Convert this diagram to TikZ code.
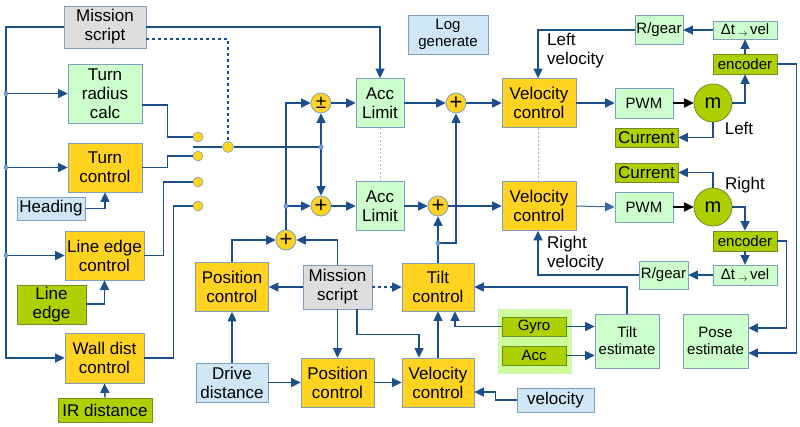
\documentclass[tikz,border=0pt]{standalone}
\usepackage{fontspec}
\setmainfont{Liberation Sans}
\usetikzlibrary{arrows.meta,calc}
\definecolor{cline}{HTML}{1B4F8C}
\definecolor{bord}{HTML}{7F9FBF}
\definecolor{cyel}{HTML}{FFD320}
\definecolor{cgrn}{HTML}{CCFFCC}
\definecolor{cblu}{HTML}{CFE7F5}
\definecolor{cgry}{HTML}{DDDDDD}
\definecolor{colv}{HTML}{AECF00}
\definecolor{bolv}{HTML}{6E8C28}
\definecolor{cgrp}{HTML}{CCFF99}
\definecolor{cdot}{HTML}{729FCF}
\definecolor{cthin}{HTML}{3465A4}
\newcommand{\fntA}{\fontsize{17}{19}\selectfont}
\newcommand{\fntB}{\fontsize{15}{17}\selectfont}
\newcommand{\fntM}{\fontsize{20}{20}\selectfont}
\newcommand{\fntS}{\fontsize{22}{22}\selectfont}
\newcommand{\smarr}{\,\raisebox{-1.5pt}{\fontsize{10}{10}\selectfont$\rightarrow$}\,}
\begin{document}
\begin{tikzpicture}[x=1pt,y=-1pt,
  every node/.style={inner sep=0pt, align=center},
  bx/.style={draw=bord, line width=0.8pt, font=\fntA},
  yel/.style={bx, fill=cyel},
  grn/.style={bx, fill=cgrn},
  blu/.style={bx, fill=cblu},
  gry/.style={bx, fill=cgry},
  olv/.style={bx, fill=colv, draw=bolv},
  sz/.style 2 args={minimum width=#1pt, minimum height=#2pt},
  sumc/.style={circle, draw=bord, fill=cyel, line width=0.8pt, minimum size=20pt, font=\fntS},
  swc/.style={circle, draw=bord, fill=cyel, line width=0.6pt, minimum size=#1pt},
  dotc/.style={circle, fill=cdot, minimum size=5pt},
  motor/.style={circle, draw=bolv, fill=colv, line width=0.8pt, minimum size=38pt, font=\fntM},
  ln/.style={draw=cline, line width=1.4pt},
  arr/.style={ln, -{Triangle[length=9.5pt,width=9pt]}},
  barr/.style={draw=black, line width=1.4pt, -{Triangle[length=9.5pt,width=9pt]}},
  tarr/.style={draw=cthin, line width=1pt, -{Triangle[length=9.5pt,width=9pt]}},
  dsh/.style={ln, dash pattern=on 3pt off 3pt},
  dotl/.style={draw=bord!70, line width=0.8pt, dash pattern=on 2pt off 2pt},
  lab/.style={font=\fntA, align=left}
]
\useasboundingbox (0,0) rectangle (800,426);
\fill[white] (0,0) rectangle (800,426);

% ---- left column
\node[gry, sz={82}{42}] (ms1) at (105,27) {Mission\\script};
\node[grn, sz={74}{59}] (trc) at (105,93.5) {Turn\\radius\\calc};
\node[yel, sz={74}{49}] (tc) at (105,167.5) {Turn\\control};
\node[blu, sz={68}{23}] (head) at (51,208.5) {Heading};
\node[yel, sz={79}{49}] (lec) at (104.5,255.5) {Line edge\\control};
\node[olv, sz={69}{39}] (le) at (51.5,304.5) {Line\\edge};
\node[yel, sz={79}{50}] (wdc) at (104.5,358) {Wall dist\\control};
\node[olv, sz={94}{24}] (ir) at (105,410) {IR distance};

% ---- switch
\node[swc=10] (c1) at (198,137) {};
\node[swc=10] (c2) at (198,156) {};
\node[swc=10] (c3) at (198,182) {};
\node[swc=10] (c4) at (198,206) {};
\node[swc=11] (cj) at (228,147) {};
\coordinate (sw) at (193,147);
\coordinate (bus) at (6,0);
\coordinate (d1) at (321,147);
\coordinate (d2) at (286,206);
\coordinate (d3) at (438,243);

% ---- sums and acc limits
\node[sumc, font=\fontsize{19}{19}\selectfont] (s1) at (321,103) {±};
\node[sumc] (s2) at (321,206) {+};
\node[sumc] (s3) at (286,240) {+};
\node[sumc] (s4) at (456,103) {+};
\node[sumc] (s5) at (438,206) {+};
\node[grn, sz={48}{49}] (acc1) at (380,103) {Acc\\Limit};
\node[grn, sz={48}{49}] (acc2) at (380,206) {Acc\\Limit};
\node[blu, sz={80}{39}, font=\fntB] (log) at (448,34.5) {Log\\generate};

% ---- velocity/motor
\node[yel, sz={74}{49}] (vc1) at (539,103) {Velocity\\control};
\node[yel, sz={74}{49}] (vc2) at (539,206) {Velocity\\control};
\node[grn, sz={58}{30}, font=\fntB] (pwm1) at (644,103) {PWM};
\node[grn, sz={58}{30}, font=\fntB] (pwm2) at (644,207) {PWM};
\node[motor] (m1) at (713,103) {m};
\node[motor] (m2) at (713,207) {m};
\node[olv, sz={63}{19}] (cur1) at (646.5,137.5) {Current};
\node[olv, sz={63}{19}] (cur2) at (646.5,172.5) {Current};
\node[olv, sz={64}{20}, font=\fntB] (enc1) at (745,64) {encoder};
\node[grn, sz={64}{18}, font=\fntB] (dt1) at (745,30) {Δt\smarr vel};
\node[grn, sz={48}{29}, font=\fntB] (rg1) at (659,30) {R/gear};
\node[olv, sz={64}{20}, font=\fntB] (enc2) at (745,241) {encoder};
\node[grn, sz={64}{20}, font=\fntB] (dt2) at (745,275) {Δt\smarr vel};
\node[grn, sz={49}{28}, font=\fntB] (rg2) at (663.5,275) {R/gear};
\node[grn, sz={65}{54}, font=\fntB] (pose) at (715.5,341) {Pose\\estimate};
\node[grn, sz={64}{54}, font=\fntB] (tilte) at (627,341) {Tilt\\estimate};
\node[bx, draw=cgrp!80!black!40, fill=cgrp, sz={73}{64}] (grp) at (534.5,341) {};
\node[olv, sz={64}{19}, font=\fntB] (gyro) at (534,326.5) {Gyro};
\node[olv, sz={64}{19}, font=\fntB] (accs) at (534,355.5) {Acc};

% ---- bottom middle
\node[yel, sz={73}{49}] (posc1) at (232,287) {Position\\control};
\node[gry, sz={69}{44}] (ms2) at (337.5,287) {Mission\\script};
\node[yel, sz={72}{48}] (tilt) at (438,287) {Tilt\\control};
\node[yel, sz={73}{49}] (posc2) at (337.5,382.5) {Position\\control};
\node[yel, sz={72}{49}] (vc3) at (438,382.5) {Velocity\\control};
\node[blu, sz={72}{39}] (dd) at (232,382.5) {Drive\\distance};
\node[blu, sz={77}{24}] (vel) at (555.5,400) {velocity};

% ---- labels
\node[lab, anchor=west] (lv) at (547,51) {Left\\velocity};
\node[lab, anchor=west] (rv) at (547,254) {Right\\velocity};
\node[lab] (ll) at (739,128) {Left};
\node[lab] (rl) at (745,185) {Right};

% ---- connectors: left side
\draw[arr] (ms1.west) -| (bus |- wdc) -- (wdc.west);
\draw[arr] (bus |- trc) -- (trc.west);
\draw[arr] (bus |- tc) -- (tc.west);
\draw[arr] (bus |- lec) -- (lec.west);
\draw[arr] (ms1.east) -| (acc1.north);
\draw[dsh] ($(ms1.east)+(0,12)$) -| (cj.north);
\draw[arr] (head.east) -| (tc.south);
\draw[arr] ($(le.east)+(0,-0.5)$) -| (lec.south);
\draw[arr] (ir.north) -- (wdc.south);
\draw[ln] ($(trc.east)+(0,11.5)$) -- ++(25,0) |- (c1.west);
\draw[ln] (tc.east) -- ++(25,0) |- (c2.west);
\draw[ln] (lec.east) -- ++(19,0) |- (c3.west);
\draw[ln] (wdc.east) -- ++(29,0) |- (c4.west);
\draw[ln] (sw) -- (cj.west);
\draw[ln] (cj.east) -- (d1);

% ---- middle
\draw[arr] (d1) -- (s1.south);
\draw[arr] (d1) -- (s2.north);
\draw[arr] (s3.north) |- (s1.west);
\draw[arr] (d2) -- (s2.west);
\draw[arr] (posc1.north) |- (s3.west);
\draw[arr] (ms2.north) |- (s3.east);
\draw[arr] (s1.east) -- (acc1.west);
\draw[arr] (acc1.east) -- (s4.west);
\draw[arr] (s4.east) -- (vc1.west);
\draw[arr] (s2.east) -- (acc2.west);
\draw[arr] (acc2.east) -- (s5.west);
\draw[arr] (s5.east) -- (vc2.west);
\draw[arr] (tilt.north) -- (s5.south);
\draw[arr] (d3) -| (s4.south);
\draw[dotl] (acc1.south) -- (acc2.north);
\draw[dotl] ($(vc1.south)+(-1,0)$) -- ($(vc2.north)+(-1,0)$);

% ---- bottom
\draw[arr] (ms2.west) -- (posc1.east);
\draw[dsh, -{Triangle[length=9.5pt,width=9pt]}] (ms2.east) -- (tilt.west);
\draw[arr] (ms2.south) -- (posc2.north);
\draw[arr] ($(ms2.south)+(19.5,0)$) -- ++(0,25) -| ($(vc3.north)+(-19,0)$);
\draw[arr] (vc3.north) -- (tilt.south);
\draw[arr] (posc2.east) -- (vc3.west);
\draw[arr] (dd.north) -- (posc1.south);
\draw[arr] (dd.east) -- (posc2.west);
\draw[arr] (vel.west) -- ++(-21,0) |- ($(vc3.east)+(0,9.5)$);
\draw[arr] (tilte.north) |- (tilt.east);
\draw[arr] (gyro.east) -- (gyro.east -| tilte.west);
\draw[arr] (accs.east) -- (accs.east -| tilte.west);
\draw[arr] (gyro.west) -| ($(tilt.south)+(17,0)$);

% ---- right side
\draw[arr] (vc1.east) -- (pwm1.west);
\draw[barr] (pwm1.east) -- (m1.west);
\draw[arr] (m1.south) |- (cur1.east);
\draw[arr] (m1.east) -| (enc1.south);
\draw[arr] (enc1.north) -- (dt1.south);
\draw[arr] (dt1.west) -- (rg1.east);
\draw[arr] (rg1.west) -| ($(vc1.north)+(-1,0)$);
\draw[arr] (enc1.east) -- ++(19,0) |- ($(pose.east)+(0,12)$);
\draw[tarr] (vc2.east) -- (pwm2.west);
\draw[barr] (pwm2.east) -- (m2.west);
\draw[arr] (m2.north) |- (cur2.east);
\draw[arr] (m2.east) -| (enc2.north);
\draw[arr] (enc2.south) -- (dt2.north);
\draw[arr] (dt2.west) -- (rg2.east);
\draw[arr] (rg2.west) -| ($(vc2.south)+(-1,0)$);
\draw[arr] (enc2.east) -- ++(9,0) |- ($(pose.east)+(0,-13)$);

% ---- dots
\node[dotc] at (bus |- trc) {};
\node[dotc] at (bus |- tc) {};
\node[dotc] at (bus |- lec) {};
\node[dotc] at (d1) {};
\node[dotc] at (d2) {};
\node[dotc] at (d3) {};
\end{tikzpicture}
\end{document}
